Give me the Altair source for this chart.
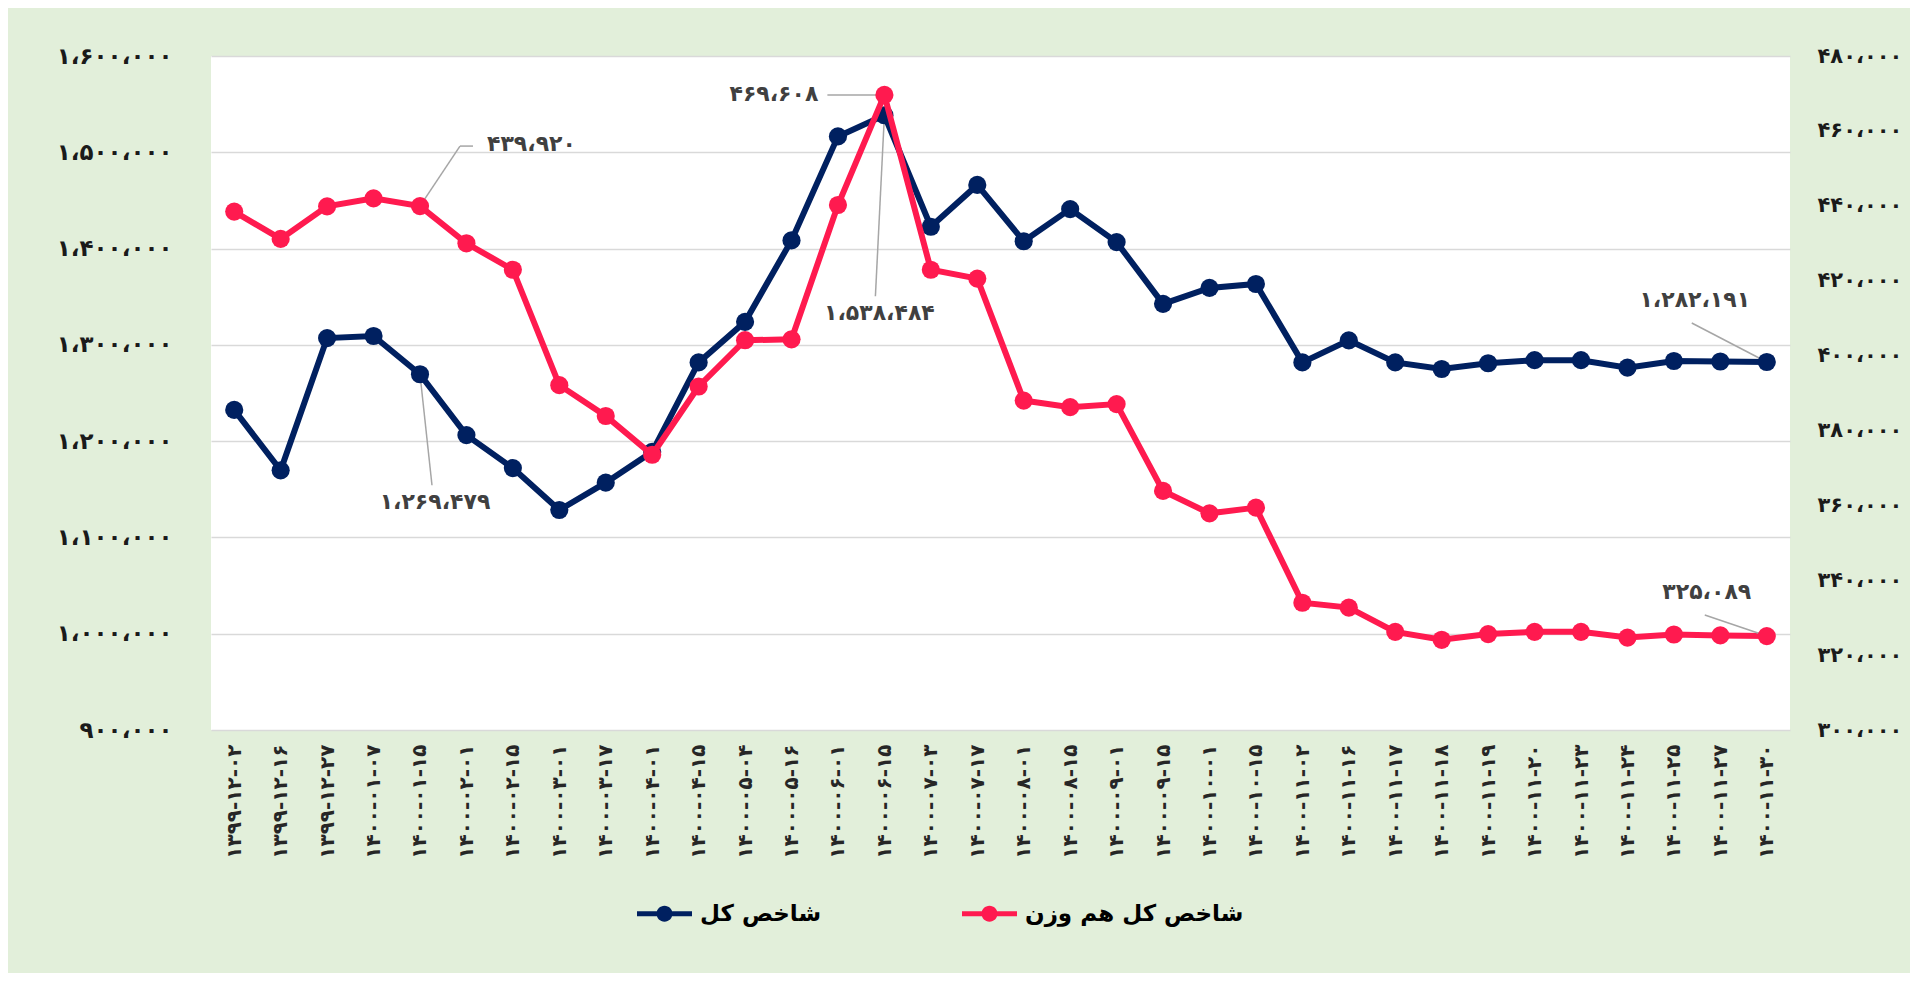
import altair as alt
import pandas as pd

FONT = "DejaVu Sans"

dates = ["۱۳۹۹-۱۲-۰۲", "۱۳۹۹-۱۲-۱۶", "۱۳۹۹-۱۲-۲۷", "۱۴۰۰-۰۱-۰۷", "۱۴۰۰-۰۱-۱۵",
         "۱۴۰۰-۰۲-۰۱", "۱۴۰۰-۰۲-۱۵", "۱۴۰۰-۰۳-۰۱", "۱۴۰۰-۰۳-۱۷", "۱۴۰۰-۰۴-۰۱",
         "۱۴۰۰-۰۴-۱۵", "۱۴۰۰-۰۵-۰۴", "۱۴۰۰-۰۵-۱۶", "۱۴۰۰-۰۶-۰۱", "۱۴۰۰-۰۶-۱۵",
         "۱۴۰۰-۰۷-۰۳", "۱۴۰۰-۰۷-۱۷", "۱۴۰۰-۰۸-۰۱", "۱۴۰۰-۰۸-۱۵", "۱۴۰۰-۰۹-۰۱",
         "۱۴۰۰-۰۹-۱۵", "۱۴۰۰-۱۰-۰۱", "۱۴۰۰-۱۰-۱۵", "۱۴۰۰-۱۱-۰۲", "۱۴۰۰-۱۱-۱۶",
         "۱۴۰۰-۱۱-۱۷", "۱۴۰۰-۱۱-۱۸", "۱۴۰۰-۱۱-۱۹", "۱۴۰۰-۱۱-۲۰", "۱۴۰۰-۱۱-۲۳",
         "۱۴۰۰-۱۱-۲۴", "۱۴۰۰-۱۱-۲۵", "۱۴۰۰-۱۱-۲۷", "۱۴۰۰-۱۱-۳۰"]

total_index = [1232400, 1169700, 1307000, 1309200, 1269479, 1206300, 1172000, 1128500,
               1156900, 1188900, 1281800, 1323900, 1408500, 1516500, 1538484, 1422700,
               1466100, 1407600, 1441000, 1406700, 1342600, 1359100, 1363200, 1281800,
               1304700, 1281800, 1274900, 1280900, 1284100, 1284100, 1276300, 1283200,
               1282700, 1282191]

equal_weight = [438450, 431150, 439860, 441980, 439920, 429980, 422920, 392100,
                383860, 373500, 391740, 404100, 404330, 440210, 469608, 422920,
                420560, 387980, 386210, 387040, 363860, 357860, 359390, 333980,
                332680, 326210, 324090, 325620, 326210, 326210, 324680, 325500,
                325270, 325089]

series_names = ["شاخص کل", "شاخص کل هم وزن"]
series_colors = ["#002060", "#FF1A4F"]

left_ticks = [900000, 1000000, 1100000, 1200000, 1300000, 1400000, 1500000, 1600000]
left_tick_labels = ["۹۰۰،۰۰۰", "۱،۰۰۰،۰۰۰", "۱،۱۰۰،۰۰۰", "۱،۲۰۰،۰۰۰",
                    "۱،۳۰۰،۰۰۰", "۱،۴۰۰،۰۰۰", "۱،۵۰۰،۰۰۰", "۱،۶۰۰،۰۰۰"]
right_ticks = [300000, 320000, 340000, 360000, 380000, 400000, 420000, 440000, 460000, 480000]
right_tick_labels = ["۳۰۰،۰۰۰", "۳۲۰،۰۰۰", "۳۴۰،۰۰۰", "۳۶۰،۰۰۰", "۳۸۰،۰۰۰",
                     "۴۰۰،۰۰۰", "۴۲۰،۰۰۰", "۴۴۰،۰۰۰", "۴۶۰،۰۰۰", "۴۸۰،۰۰۰"]

# annotated points: (index into dates, label)
blue_notes = [(4, "۱،۲۶۹،۴۷۹"), (14, "۱،۵۳۸،۴۸۴"), (33, "۱،۲۸۲،۱۹۱")]
red_notes = [(4, "۴۳۹،۹۲۰"), (14, "۴۶۹،۶۰۸"), (33, "۳۲۵،۰۸۹")]


def label_expr(ticks, labels):
    expr = "''"
    for v, s in zip(ticks, labels):
        expr = f"datum.value == {v} ? '{s}' : ({expr})"
    return expr


df_blue = pd.DataFrame({"date": dates, "value": total_index, "series": series_names[0]})
df_red = pd.DataFrame({"date": dates, "value": equal_weight, "series": series_names[1]})

x_axis = alt.Axis(title=None, labelAngle=-90, labelFontSize=20, labelPadding=14,
                  labelFont=FONT, labelFontWeight="bold", labelColor="#262626",
                  domain=False, ticks=False, grid=False)
x_enc = alt.X("date:N", sort=None, scale=alt.Scale(type="point", padding=0.5), axis=x_axis)

color_enc = alt.Color("series:N",
                      scale=alt.Scale(domain=series_names, range=series_colors),
                      legend=alt.Legend(title=None, orient="none", direction="horizontal",
                                        legendX=426, legendY=830,
                                        symbolType="M-1,-0.09 L1,-0.09 L1,0.09 L-1,0.09 Z M0,-0.29 A0.29,0.29 0 1 1 0,0.29 A0.29,0.29 0 1 1 0,-0.29 Z",
                                        symbolSize=3025, symbolStrokeWidth=0, symbolOpacity=1,
                                        labelFont=FONT, labelFontSize=23, labelFontWeight="bold",
                                        labelColor="#000000", labelOffset=8, columnPadding=140,
                                        labelLimit=400))

blue_scale = alt.Scale(domain=[900000, 1600000], nice=False, zero=False)
red_scale = alt.Scale(domain=[300000, 480000], nice=False, zero=False)

left_axis = alt.Axis(title=None, values=left_ticks, labelExpr=label_expr(left_ticks, left_tick_labels),
                     labelFont=FONT, labelFontWeight="bold", labelFontSize=23, labelColor="#1A1A1A",
                     labelPadding=39, domain=False, ticks=False, grid=True,
                     gridColor="#D9D9D9", gridWidth=1.5)
right_axis = alt.Axis(title=None, orient="right", values=right_ticks,
                      labelExpr=label_expr(right_ticks, right_tick_labels),
                      labelFont=FONT, labelFontWeight="bold", labelFontSize=21, labelColor="#1A1A1A",
                      labelPadding=27, domain=False, ticks=False, grid=False)


def note_layers(df, idx, text, scale, axis, tdx, tdy, align, segments):
    row = df.iloc[[idx]].assign(label=text)
    base = alt.Chart(row).encode(x=x_enc, y=alt.Y("value:Q", scale=scale, axis=axis))
    layers = []
    for (x1, y1, x2, y2) in segments:
        layers.append(base.mark_rule(color="#A6A6A6", strokeWidth=1.5,
                                     xOffset=x1, yOffset=y1, x2Offset=x2, y2Offset=y2)
                      .encode(x2="date:N", y2="value:Q"))
    layers.append(base.mark_text(font=FONT, fontWeight="bold", fontSize=22, color="#404040",
                                 dx=tdx, dy=tdy, align=align, baseline="middle")
                  .encode(text="label:N"))
    return layers


blue_y = alt.Y("value:Q", scale=blue_scale, axis=left_axis)
red_y = alt.Y("value:Q", scale=red_scale, axis=right_axis)

blue_line = alt.Chart(df_blue).mark_line(strokeWidth=6).encode(x=x_enc, y=blue_y, color=color_enc)
blue_pts = alt.Chart(df_blue).mark_point(filled=True, size=330, opacity=1).encode(
    x=x_enc, y=blue_y, color=color_enc)

red_line = alt.Chart(df_red).mark_line(strokeWidth=6).encode(x=x_enc, y=red_y, color=color_enc)
red_pts = alt.Chart(df_red).mark_point(filled=True, size=330, opacity=1).encode(
    x=x_enc, y=red_y, color=color_enc)

blue_notes_layers = []
blue_notes_layers += note_layers(df_blue, blue_notes[0][0], blue_notes[0][1], blue_scale, left_axis,
                                 15, 128, "center", [(0, 0, 12, 111)])
blue_notes_layers += note_layers(df_blue, blue_notes[1][0], blue_notes[1][1], blue_scale, left_axis,
                                 -5, 198, "center", [(0, 0, -9, 181)])
blue_notes_layers += note_layers(df_blue, blue_notes[2][0], blue_notes[2][1], blue_scale, left_axis,
                                 -72, -62, "center", [(0, 0, -75, -39)])

red_notes_layers = []
red_notes_layers += note_layers(df_red, red_notes[0][0], red_notes[0][1], red_scale, right_axis,
                                67, -62, "left", [(0, 0, 40, -60), (40, -60, 53, -60)])
red_notes_layers += note_layers(df_red, red_notes[1][0], red_notes[1][1], red_scale, right_axis,
                                -66, -1, "right", [(0, 0, -57, 0)])
red_notes_layers += note_layers(df_red, red_notes[2][0], red_notes[2][1], red_scale, right_axis,
                                -60, -44, "center", [(0, 0, -62, -21)])

blue_group = alt.layer(blue_line, *blue_notes_layers, blue_pts)
red_group = alt.layer(red_line, *red_notes_layers, red_pts)

chart = alt.layer(blue_group, red_group).resolve_scale(y="independent").properties(
    width=1579, height=674,
    padding={"left": 203, "top": 48, "right": 120, "bottom": 243},
    autosize=alt.AutoSizeParams(type="none"),
    background="#E2EFDA",
).configure_view(fill="#FFFFFF", stroke=None)

chart.save("out.html", embed_options={"renderer": "svg", "actions": False})
